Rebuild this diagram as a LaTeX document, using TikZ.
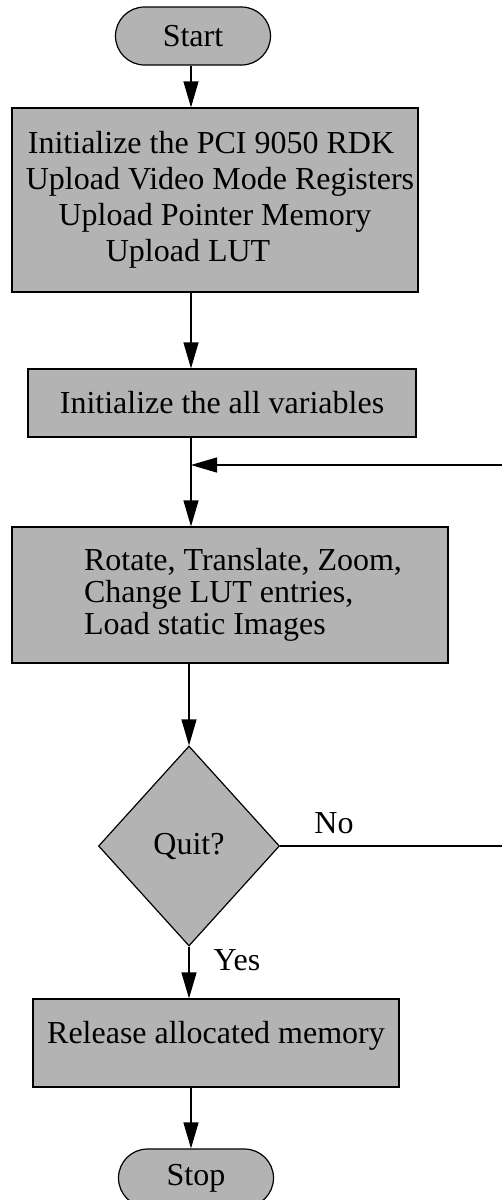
\documentclass[tikz,border=0pt]{standalone}
\usepackage{fontspec}
\setmainfont{Liberation Serif}
\usetikzlibrary{shapes.geometric,arrows.meta}
\definecolor{boxgray}{RGB}{179,179,179}

\begin{document}
\begin{tikzpicture}[
    x=1pt, y=-1pt,
    every node/.style={font=\fontsize{32}{36}\selectfont},
    terminal/.style={rectangle, rounded corners=29pt, draw=black, fill=boxgray,
                     line width=1.2pt, minimum width=155pt, minimum height=58pt,
                     inner sep=0pt},
    process/.style={rectangle, draw=black, fill=boxgray, line width=1.2pt,
                    inner sep=0pt},
    decision/.style={diamond, draw=black, fill=boxgray, line width=1.2pt,
                     minimum width=181pt, minimum height=200pt, inner sep=0pt},
    arrow/.style={-{Triangle[length=26pt,width=15pt]}, line width=1.2pt},
]

\useasboundingbox (0,0) rectangle (502,1200);
\clip (0,0) rectangle (502,1200);

% Blocchi
\node[terminal] (start) at (193,36) {Start};
\node[process, minimum width=406pt, minimum height=184pt, align=center] (init) at (215,200)
    {Initialize the PCI 9050 RDK\hspace*{8pt}\\
     \hspace*{10pt}Upload Video Mode Registers\\
     Upload Pointer Memory\hspace*{22pt}\\
     Upload LUT\hspace*{54pt}};
\node[process, minimum width=388pt, minimum height=68pt] (vars) at (222,403)
    {Initialize the all variables};
\node[process, minimum width=436pt, minimum height=136pt, align=left,
      font=\fontsize{32}{32}\selectfont] (ops) at (230,595)
    {\hspace*{26pt}Rotate, Translate, Zoom,\\
     \hspace*{26pt}Change LUT entries,\\
     \hspace*{26pt}Load static Images};
\node[decision] (quit) at (189,846) {Quit?};
\node[process, minimum width=366pt, minimum height=88pt,
      text height=22pt, text depth=22pt] (release) at (216,1043)
    {Release allocated memory};
\node[terminal] (stop) at (196,1178) {Stop};

% Etichette
\node (no) at (334,823) {No};
\node (yes) at (237,960) {Yes};

% Frecce
\coordinate (col) at (191,0);
\coordinate (join) at (191,465);
\draw[arrow] (start.south -| col) -- (init.north -| col);
\draw[arrow] (init.south -| col) -- (vars.north -| col);
\draw[arrow] (vars.south -| col) -- (ops.north -| col);
\draw[arrow] (ops.south -| quit.north) -- (quit.north);
\draw[arrow] (quit.south) -- (release.north -| quit.south);
\draw[arrow] (release.south -| col) -- (stop.north -| col);

% Ritorno
\draw[arrow] (quit.east) -- ++(330,0) |- (join);

\end{tikzpicture}
\end{document}
